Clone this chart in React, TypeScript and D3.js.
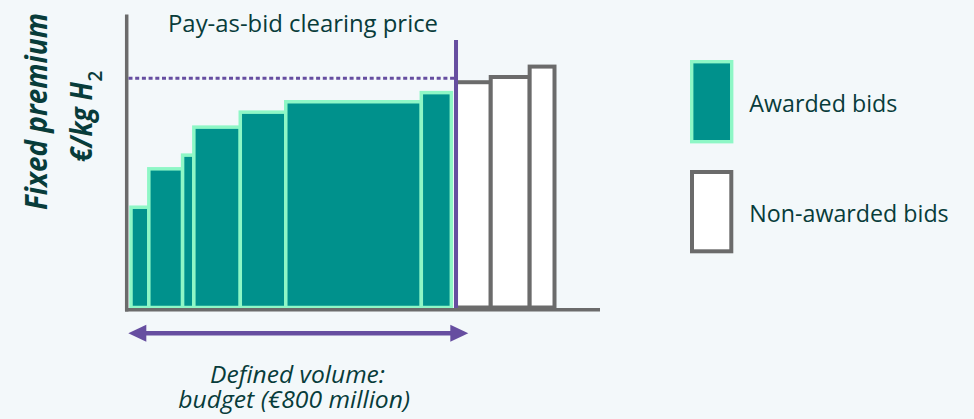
import React, { useEffect, useRef } from 'react';
import * as d3 from 'd3';

// bid volumes (MW) and bid prices (€/kg H2)
const awardedVolumes = [38, 72, 24, 99, 97, 289, 64];
const awardedPrices = [1.54, 2.13, 2.34, 2.77, 3.0, 3.16, 3.3];
const nonAwardedVolumes = [74, 83, 53];
const nonAwardedPrices = [3.46, 3.54, 3.7];
const clearingPrice = 3.52;
const budgetVolume = 693;
const legendLabels = ['Awarded bids', 'Non-awarded bids'];

const WIDTH = 974;
const HEIGHT = 419;
const TEXT = '#083c3a';
const TEAL = '#00918c';
const MINT = '#8ef7c6';
const GREY = '#6b6b6b';
const PURPLE = '#664ea0';
const FONT = '"Open Sans", sans-serif';

const App: React.FC = () => {
  const svgRef = useRef<SVGSVGElement | null>(null);

  useEffect(() => {
    if (!svgRef.current) return;
    const svg = d3.select(svgRef.current);
    svg.selectAll('*').remove();

    const xScale = d3.scaleLinear().domain([0, 1000]).range([131, 600]);
    const yScale = d3.scaleLinear().domain([0, 4.5]).range([307.5, 14.5]);

    // background
    svg.append('rect').attr('width', WIDTH).attr('height', HEIGHT).attr('fill', '#f3f8fa');

    // awarded bars, laid side by side by volume
    const awardedEnds = Array.from(d3.cumsum(awardedVolumes));
    const awarded = awardedVolumes.map((v, i) => ({
      x0: awardedEnds[i] - v,
      x1: awardedEnds[i],
      price: awardedPrices[i],
    }));
    svg
      .append('g')
      .selectAll('rect')
      .data(awarded)
      .enter()
      .append('rect')
      .attr('x', (d) => xScale(d.x0))
      .attr('width', (d) => xScale(d.x1) - xScale(d.x0))
      .attr('y', (d) => yScale(d.price))
      .attr('height', (d) => yScale(0) - yScale(d.price))
      .attr('fill', TEAL)
      .attr('stroke', MINT)
      .attr('stroke-width', 3.5);

    // non-awarded bars start at the budget cut-off
    const nonEnds = Array.from(d3.cumsum(nonAwardedVolumes)).map((e) => e + budgetVolume);
    const nonAwarded = nonAwardedVolumes.map((v, i) => ({
      x0: nonEnds[i] - v,
      x1: nonEnds[i],
      price: nonAwardedPrices[i],
    }));
    svg
      .append('g')
      .selectAll('rect')
      .data(nonAwarded)
      .enter()
      .append('rect')
      .attr('x', (d) => xScale(d.x0))
      .attr('width', (d) => xScale(d.x1) - xScale(d.x0))
      .attr('y', (d) => yScale(d.price))
      .attr('height', (d) => yScale(0) - yScale(d.price))
      .attr('fill', '#ffffff')
      .attr('stroke', GREY)
      .attr('stroke-width', 4);

    // axes
    svg
      .append('line')
      .attr('x1', 126.7)
      .attr('x2', 126.7)
      .attr('y1', yScale(4.5))
      .attr('y2', 311.5)
      .attr('stroke', GREY)
      .attr('stroke-width', 3.5);
    svg
      .append('line')
      .attr('x1', 125)
      .attr('x2', xScale(1000))
      .attr('y1', 309.7)
      .attr('y2', 309.7)
      .attr('stroke', GREY)
      .attr('stroke-width', 3.5);

    // clearing price (dotted) and budget cut-off
    svg
      .append('line')
      .attr('x1', 128.5)
      .attr('x2', xScale(budgetVolume))
      .attr('y1', yScale(clearingPrice))
      .attr('y2', yScale(clearingPrice))
      .attr('stroke', PURPLE)
      .attr('stroke-width', 3)
      .attr('stroke-dasharray', '4 2.7');
    svg
      .append('line')
      .attr('x1', xScale(budgetVolume))
      .attr('x2', xScale(budgetVolume))
      .attr('y1', 40)
      .attr('y2', 308)
      .attr('stroke', PURPLE)
      .attr('stroke-width', 4);

    // double arrow under the awarded volume
    const ay = 333.3;
    const ax0 = 128.3;
    const ax1 = 468.3;
    svg
      .append('line')
      .attr('x1', ax0 + 10)
      .attr('x2', ax1 - 10)
      .attr('y1', ay)
      .attr('y2', ay)
      .attr('stroke', PURPLE)
      .attr('stroke-width', 4.5);
    svg
      .append('path')
      .attr('d', `M${ax0},${ay} L${ax0 + 18},${ay - 8.5} L${ax0 + 18},${ay + 8.5} Z`)
      .attr('fill', PURPLE);
    svg
      .append('path')
      .attr('d', `M${ax1},${ay} L${ax1 - 18},${ay - 8.5} L${ax1 - 18},${ay + 8.5} Z`)
      .attr('fill', PURPLE);

    const text = (x: number, y: number, s: string, len: number, size = 24) =>
      svg
        .append('text')
        .attr('x', x)
        .attr('y', y)
        .attr('font-family', FONT)
        .attr('font-size', size)
        .attr('fill', TEXT)
        .attr('textLength', len)
        .attr('lengthAdjust', 'spacingAndGlyphs')
        .text(s);

    text(168, 31.7, 'Pay-as-bid clearing price', 270);
    text(210, 383.3, 'Defined volume:', 175, 23).attr('font-style', 'italic');
    text(178.3, 408.3, 'budget (€800 million)', 231.7, 23).attr('font-style', 'italic');

    // y label, rotated
    svg
      .append('text')
      .attr('transform', 'translate(46.7,210) rotate(-90)')
      .attr('font-family', FONT)
      .attr('font-size', 30)
      .attr('font-weight', 700)
      .attr('font-style', 'italic')
      .attr('fill', TEXT)
      .attr('textLength', 197)
      .attr('lengthAdjust', 'spacingAndGlyphs')
      .text('Fixed premium');
    svg
      .append('text')
      .attr('transform', 'translate(92,162) rotate(-90)')
      .attr('font-family', FONT)
      .attr('font-size', 30)
      .attr('font-weight', 700)
      .attr('font-style', 'italic')
      .attr('fill', TEXT)
      .attr('textLength', 80)
      .attr('lengthAdjust', 'spacingAndGlyphs')
      .text('€/kg H');
    svg
      .append('text')
      .attr('transform', 'translate(101.5,81.5) rotate(-90)')
      .attr('font-family', FONT)
      .attr('font-size', 19)
      .attr('font-weight', 600)
      .attr('fill', TEXT)
      .text('2');

    // legend
    const legend = svg.append('g');
    legend
      .append('rect')
      .attr('x', 691.7)
      .attr('y', 61.7)
      .attr('width', 40)
      .attr('height', 80)
      .attr('fill', TEAL)
      .attr('stroke', MINT)
      .attr('stroke-width', 3.4);
    legend
      .append('rect')
      .attr('x', 692)
      .attr('y', 172)
      .attr('width', 39.3)
      .attr('height', 79.3)
      .attr('fill', '#ffffff')
      .attr('stroke', GREY)
      .attr('stroke-width', 4);
    text(749.3, 111.7, legendLabels[0], 148);
    text(749.3, 221.7, legendLabels[1], 199.4);
  }, []);

  return (
    <svg
      ref={svgRef}
      width={WIDTH}
      height={HEIGHT}
      style={{ position: 'absolute', left: 0, top: 0 }}
    />
  );
};

export default App;
